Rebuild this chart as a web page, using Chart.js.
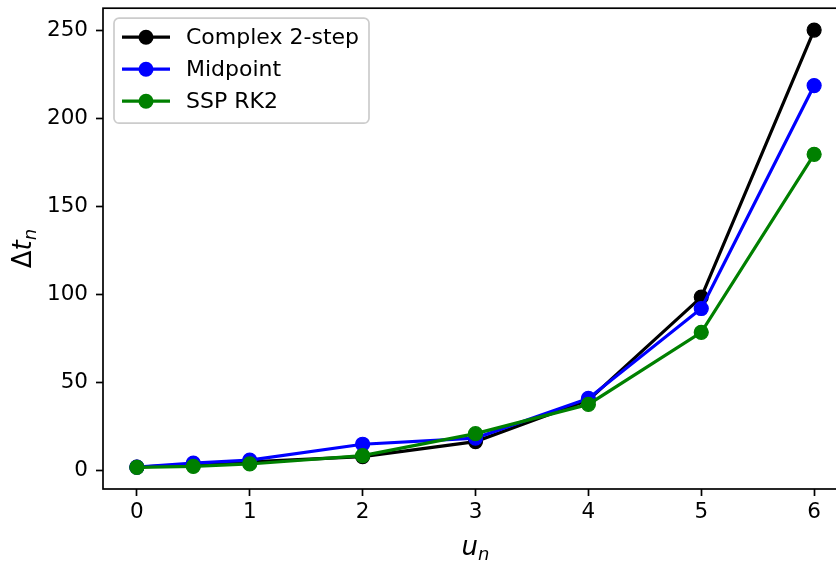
<!DOCTYPE html>
<html>
<head>
<meta charset="utf-8">
<title>Time step vs u</title>
<script src="https://cdn.jsdelivr.net/npm/chart.js@4.4.1/dist/chart.umd.min.js"></script>
<style>
  html, body { margin: 0; padding: 0; background: #fff; overflow: hidden; }
  #chart { display: block; }
</style>
</head>
<body>
<canvas id="chart" width="836" height="562" style="width:836px;height:562px"></canvas>
<script>
/* ── data ─────────────────────────────────────────────── */
var U_VALUES = [0, 0.5, 1, 2, 3, 4, 5, 6];
var COMPLEX_2STEP = [2, 3.5, 5, 8, 16.5, 40, 98.5, 250];
var MIDPOINT = [2, 4.3, 6, 15, 18.5, 41, 92, 218.5];
var SSP_RK2 = [1.9, 2.4, 3.8, 8.5, 21, 37.6, 78.5, 179.5];

var SERIES_LABELS = ["Complex 2-step", "Midpoint", "SSP RK2"];
var SERIES_COLORS = ["#000000", "#0000ff", "#008000"];

var X_TICKS = [0, 1, 2, 3, 4, 5, 6];
var Y_TICKS = [0, 50, 100, 150, 200, 250];

var FONT = "'DejaVu Sans', sans-serif";
var PLOT_RIGHT = 848; // the original plot frame is cut off by the picture edge

function pts(ys) {
  return U_VALUES.map(function (x, i) { return { x: x, y: ys[i] }; });
}

function makeSet(i, ys) {
  return {
    label: SERIES_LABELS[i],
    data: pts(ys),
    borderColor: SERIES_COLORS[i],
    backgroundColor: SERIES_COLORS[i],
    pointBackgroundColor: SERIES_COLORS[i],
    pointBorderColor: SERIES_COLORS[i],
    borderWidth: 3.2,
    pointRadius: 7,
    pointBorderWidth: 1.2,
    tension: 0,
    fill: false,
    order: 3 - i
  };
}

/* ── stretch plot area past the canvas edge ───────────── */
var extendPlugin = {
  id: "extendRight",
  afterLayout: function (chart) {
    var a = chart.chartArea, x = chart.scales.x;
    a.right = PLOT_RIGHT;
    a.width = a.right - a.left;
    x.right = PLOT_RIGHT;
    x.width = x.right - x.left;
    x.configure();
  }
};

/* ── frame, axis titles, legend ───────────────────────── */
var framePlugin = {
  id: "frame",
  afterDatasetsDraw: function (chart) {
    var a = chart.chartArea, ctx = chart.ctx;
    ctx.save();
    ctx.strokeStyle = "#000";
    ctx.lineWidth = 1.7;
    ctx.strokeRect(a.left, a.top, a.right - a.left, a.bottom - a.top);
    ctx.restore();
  }
};

function drawSubLabel(ctx, parts, x, y, align) {
  // parts: [text, font, dy]
  var widths = parts.map(function (p) { ctx.font = p[1]; return ctx.measureText(p[0]).width; });
  var total = widths.reduce(function (s, w) { return s + w; }, 0);
  var cx = align === "center" ? x - total / 2 : x;
  parts.forEach(function (p, k) {
    ctx.font = p[1];
    ctx.fillText(p[0], cx, y + p[2]);
    cx += widths[k];
  });
}

var titlesPlugin = {
  id: "titles",
  afterDraw: function (chart) {
    var a = chart.chartArea, ctx = chart.ctx;
    ctx.save();
    ctx.fillStyle = "#000";
    ctx.textBaseline = "alphabetic";
    ctx.textAlign = "left";
    // x title: u_n
    drawSubLabel(ctx, [
      ["u", "oblique 26px " + FONT, 0],
      ["n", "oblique 18px " + FONT, 5]
    ], (a.left + a.right) / 2, 555, "center");
    // y title: Δt_n
    ctx.translate(31, (a.top + a.bottom) / 2);
    ctx.rotate(-Math.PI / 2);
    drawSubLabel(ctx, [
      ["\u0394", "26px " + FONT, 0],
      ["t", "oblique 26px " + FONT, 0],
      ["n", "oblique 18px " + FONT, 5]
    ], 0, 0, "center");
    ctx.restore();
  }
};

var legendPlugin = {
  id: "boxLegend",
  afterDraw: function (chart) {
    var a = chart.chartArea, ctx = chart.ctx;
    var x0 = a.left + 11, y0 = a.top + 10, w = 255, h = 105;
    ctx.save();
    ctx.beginPath();
    ctx.roundRect(x0, y0, w, h, 5);
    ctx.fillStyle = "rgba(255,255,255,0.8)";
    ctx.fill();
    ctx.strokeStyle = "#cccccc";
    ctx.lineWidth = 1.7;
    ctx.stroke();
    chart.data.datasets.forEach(function (ds, i) {
      var cy = y0 + 19 + 32 * i;
      ctx.strokeStyle = ds.borderColor;
      ctx.lineWidth = 3.2;
      ctx.beginPath();
      ctx.moveTo(x0 + 8, cy);
      ctx.lineTo(x0 + 56, cy);
      ctx.stroke();
      ctx.beginPath();
      ctx.arc(x0 + 32, cy, 7.5, 0, Math.PI * 2);
      ctx.fillStyle = ds.borderColor;
      ctx.fill();
      ctx.fillStyle = "#000";
      ctx.font = "22px " + FONT;
      ctx.textBaseline = "middle";
      ctx.fillText(ds.label, x0 + 72, cy + 1);
    });
    ctx.restore();
  }
};

/* ── chart ────────────────────────────────────────────── */
new Chart(document.getElementById("chart"), {
  type: "line",
  data: {
    datasets: [
      makeSet(0, COMPLEX_2STEP),
      makeSet(1, MIDPOINT),
      makeSet(2, SSP_RK2)
    ]
  },
  options: {
    responsive: false,
    devicePixelRatio: 1,
    animation: false,
    layout: { padding: { top: 6, right: 0, left: 0, bottom: 0 } },
    plugins: { legend: { display: false }, tooltip: { enabled: false } },
    scales: {
      x: {
        type: "linear",
        min: -0.3,
        max: 6.3,
        afterBuildTicks: function (s) { s.ticks = X_TICKS.map(function (v) { return { value: v }; }); },
        afterFit: function (s) { s.height = 73; s.paddingLeft = 0; s.paddingRight = 0; },
        grid: { drawOnChartArea: false, tickLength: 7, tickWidth: 1.7, tickColor: "#000" },
        border: { display: false },
        ticks: { color: "#000", font: { family: FONT, size: 21.5 }, padding: 4, maxRotation: 0 }
      },
      y: {
        type: "linear",
        min: -10.4,
        max: 262.4,
        afterBuildTicks: function (s) { s.ticks = Y_TICKS.map(function (v) { return { value: v }; }); },
        afterFit: function (s) { s.width = 103; s.paddingTop = 0; s.paddingBottom = 0; },
        grid: { drawOnChartArea: false, tickLength: 7, tickWidth: 1.7, tickColor: "#000" },
        border: { display: false },
        ticks: { color: "#000", font: { family: FONT, size: 21.5 }, padding: 8 }
      }
    }
  },
  plugins: [extendPlugin, framePlugin, titlesPlugin, legendPlugin]
});
</script>
</body>
</html>
